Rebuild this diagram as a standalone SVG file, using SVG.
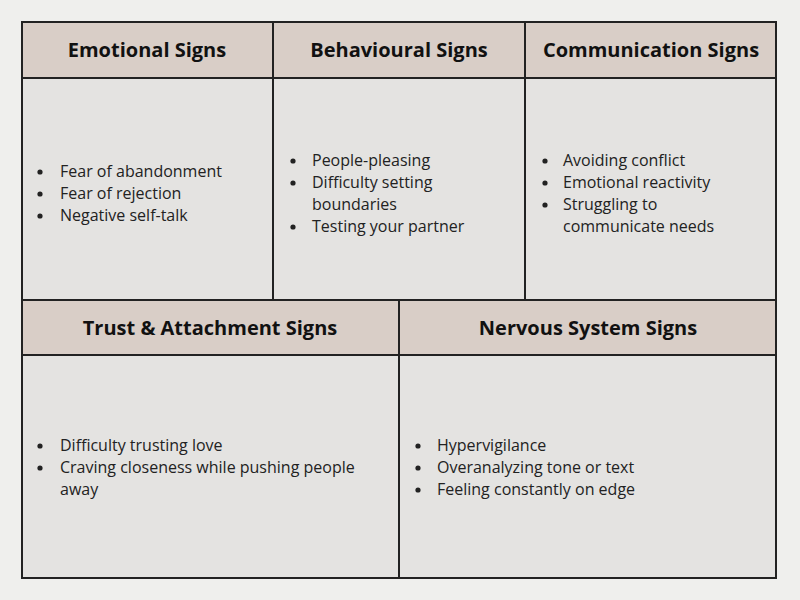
<svg xmlns="http://www.w3.org/2000/svg" width="800" height="600" viewBox="0 0 800 600">
<style>
.h{fill:#d9cec7;stroke:#222;stroke-width:2}
.b{fill:#e4e3e1;stroke:#222;stroke-width:2}
.t{font-family:"Open Sans","Liberation Sans",sans-serif;font-weight:bold;font-size:20px;fill:#111;text-anchor:middle}
.l{font-family:"Open Sans","Liberation Sans",sans-serif;font-size:16px;fill:#222}
.d{fill:#222}
</style>
<defs><circle id="dot" r="2.6" class="d"/></defs>
<rect width="800" height="600" fill="#efefed"/>
<g id="emotional">
<rect class="b" x="22" y="78" width="251" height="222"/><rect class="h" x="22" y="22" width="251" height="56"/>
<text class="t" x="147" y="57">Emotional Signs</text>
<use href="#dot" x="40" y="172"/><use href="#dot" x="40" y="194"/><use href="#dot" x="40" y="216"/>
<text class="l"><tspan x="60" y="177">Fear of abandonment</tspan><tspan x="60" y="199">Fear of rejection</tspan><tspan x="60" y="221">Negative self-talk</tspan></text>
</g>
<g id="behavioural">
<rect class="b" x="273" y="78" width="252" height="222"/><rect class="h" x="273" y="22" width="252" height="56"/>
<text class="t" x="399" y="57">Behavioural Signs</text>
<use href="#dot" x="293" y="161"/><use href="#dot" x="293" y="183"/><use href="#dot" x="293" y="227"/>
<text class="l"><tspan x="312" y="166">People-pleasing</tspan><tspan x="312" y="188">Difficulty setting</tspan><tspan x="312" y="210">boundaries</tspan><tspan x="312" y="232">Testing your partner</tspan></text>
</g>
<g id="communication">
<rect class="b" x="525" y="78" width="251" height="222"/><rect class="h" x="525" y="22" width="251" height="56"/>
<text class="t" x="651" y="57">Communication Signs</text>
<use href="#dot" x="545" y="161"/><use href="#dot" x="545" y="183"/><use href="#dot" x="545" y="205"/>
<text class="l"><tspan x="563" y="166">Avoiding conflict</tspan><tspan x="563" y="188">Emotional reactivity</tspan><tspan x="563" y="210">Struggling to</tspan><tspan x="563" y="232">communicate needs</tspan></text>
</g>
<g id="trust">
<rect class="b" x="22" y="355" width="377" height="223"/><rect class="h" x="22" y="300" width="377" height="55"/>
<text class="t" x="210" y="335">Trust &amp; Attachment Signs</text>
<use href="#dot" x="40" y="446"/><use href="#dot" x="40" y="468"/>
<text class="l"><tspan x="60" y="451">Difficulty trusting love</tspan><tspan x="60" y="473">Craving closeness while pushing people</tspan><tspan x="60" y="495">away</tspan></text>
</g>
<g id="nervous">
<rect class="b" x="399" y="355" width="377" height="223"/><rect class="h" x="399" y="300" width="377" height="55"/>
<text class="t" x="588" y="335">Nervous System Signs</text>
<use href="#dot" x="418" y="446"/><use href="#dot" x="418" y="468"/><use href="#dot" x="418" y="490"/>
<text class="l"><tspan x="437" y="451">Hypervigilance</tspan><tspan x="437" y="473">Overanalyzing tone or text</tspan><tspan x="437" y="495">Feeling constantly on edge</tspan></text>
</g>
<g id="connectors"/>
</svg>
